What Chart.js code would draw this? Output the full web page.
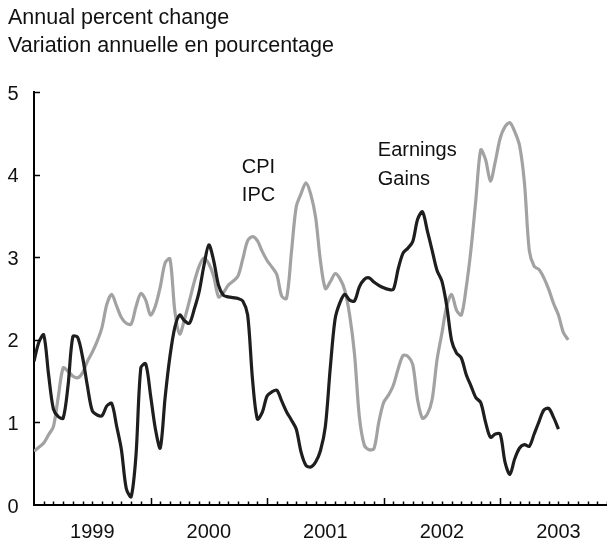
<!DOCTYPE html>
<html>
<head>
<meta charset="utf-8">
<script src="https://cdn.jsdelivr.net/npm/chart.js@4.4.0/dist/chart.umd.min.js"></script>
<style>
    html, body { margin: 0; padding: 0; background: #fff; overflow: hidden; }
    #wrap { position: relative; width: 607px; height: 545px; }
</style>
</head>
<body>
<div id="wrap"><canvas id="chart"></canvas></div>
<script>
// Readings every half month, starting January 1999
const startYear = 1999;
const stepMonths = 0.5;

const yearLabels = ['1999', '2000', '2001', '2002', '2003'];

// Earnings gains (black)
const earningsValues = [
    1.74, 1.97, 2.06, 1.58, 1.16, 1.07, 1.05, 1.44, 2.04, 2.03,
    1.79, 1.44, 1.14, 1.09, 1.08, 1.20, 1.23, 0.96, 0.67, 0.20,
    0.10, 0.60, 1.66, 1.71, 1.33, 0.92, 0.69, 1.30, 1.80, 2.15,
    2.30, 2.23, 2.20, 2.37, 2.58, 2.90, 3.15, 2.96, 2.66, 2.54,
    2.52, 2.51, 2.50, 2.47, 2.30, 1.52, 1.04, 1.12, 1.32, 1.37,
    1.39, 1.26, 1.13, 1.03, 0.92, 0.64, 0.48, 0.46, 0.52, 0.66,
    0.95, 1.65, 2.25, 2.45, 2.55, 2.48, 2.47, 2.64, 2.73, 2.75,
    2.70, 2.66, 2.63, 2.61, 2.61, 2.86, 3.05, 3.11, 3.19, 3.46,
    3.55, 3.32, 3.08, 2.84, 2.71, 2.41, 1.99, 1.84, 1.78, 1.58,
    1.44, 1.30, 1.24, 1.00, 0.82, 0.86, 0.86, 0.52, 0.37, 0.56,
    0.69, 0.73, 0.71, 0.86, 1.01, 1.15, 1.17, 1.06, 0.92
];

// CPI (grey)
const cpiValues = [
    0.65, 0.70, 0.75, 0.85, 0.95, 1.31, 1.66, 1.62, 1.56, 1.54,
    1.60, 1.74, 1.85, 1.98, 2.15, 2.43, 2.55, 2.41, 2.27, 2.20,
    2.19, 2.40, 2.56, 2.48, 2.30, 2.41, 2.64, 2.93, 2.98, 2.35,
    2.07, 2.25, 2.47, 2.70, 2.89, 2.99, 2.92, 2.77, 2.52, 2.57,
    2.66, 2.71, 2.77, 2.98, 3.20, 3.25, 3.20, 3.07, 2.96, 2.88,
    2.79, 2.53, 2.50, 3.05, 3.61, 3.77, 3.90, 3.76, 3.48, 2.95,
    2.62, 2.70, 2.80, 2.74, 2.60, 2.30, 1.83, 1.07, 0.73, 0.67,
    0.68, 1.00, 1.24, 1.33, 1.45, 1.65, 1.81, 1.80, 1.70, 1.27,
    1.05, 1.10, 1.28, 1.76, 2.08, 2.41, 2.55, 2.36, 2.30, 2.63,
    3.10, 3.70, 4.30, 4.18, 3.92, 4.16, 4.44, 4.58, 4.63, 4.52,
    4.35, 3.90, 3.08, 2.89, 2.85, 2.75, 2.61, 2.44, 2.30, 2.09,
    2.00
];

const toPoints = values => values.map((v, i) => ({ x: i * stepMonths, y: v }));

const FONT = '"Liberation Sans", Arial, Helvetica, sans-serif';

// Titles, series labels and inward tick marks
const decorations = {
    id: 'decorations',
    afterDraw(chart) {
        const { ctx, chartArea, scales: { x, y } } = chart;
        ctx.save();
        ctx.fillStyle = '#111';
        ctx.textBaseline = 'alphabetic';
        ctx.textAlign = 'left';
        ctx.font = '21.5px ' + FONT;
        ctx.fillText('Annual percent change', 8, 23.5);
        ctx.fillText('Variation annuelle en pourcentage', 8, 51.5);

        // series labels, anchored in data coordinates
        ctx.font = '20px ' + FONT;
        ctx.fillText('CPI', x.getPixelForValue(21.4), y.getPixelForValue(4.02));
        ctx.fillText('IPC', x.getPixelForValue(21.4), y.getPixelForValue(3.68));
        ctx.fillText('Earnings', x.getPixelForValue(35.4), y.getPixelForValue(4.22));
        ctx.fillText('Gains', x.getPixelForValue(35.4), y.getPixelForValue(3.88));

        // tick marks pointing into the plot
        ctx.strokeStyle = '#000';
        ctx.lineWidth = 1.5;
        ctx.beginPath();
        for (let m = 1; m <= x.max; m++) {
            const px = Math.round(x.getPixelForValue(m)) + 0.5;
            const len = m % 12 === 0 ? 7 : 3.5;
            ctx.moveTo(px, chartArea.bottom);
            ctx.lineTo(px, chartArea.bottom - len);
        }
        for (let v = 1; v <= 5; v++) {
            const py = Math.round(y.getPixelForValue(v)) + 0.5;
            ctx.moveTo(chartArea.left, py);
            ctx.lineTo(chartArea.left + 6, py);
        }
        ctx.stroke();
        ctx.restore();
    }
};

const ctx = document.getElementById('chart').getContext('2d');

new Chart(ctx, {
    type: 'line',
    data: {
        datasets: [{
            label: 'Earnings Gains',
            data: toPoints(earningsValues),
            borderColor: '#1e1e1e',
            borderWidth: 3.2,
            pointRadius: 0,
            tension: 0.3,
            fill: false
        }, {
            label: 'CPI',
            data: toPoints(cpiValues),
            borderColor: '#a2a2a2',
            borderWidth: 3.2,
            pointRadius: 0,
            tension: 0.3,
            fill: false
        }]
    },
    options: {
        responsive: true,
        maintainAspectRatio: false,
        animation: false,
        layout: {
            padding: { top: 92, right: 0, bottom: 0, left: 0 }
        },
        plugins: {
            legend: { display: false },
            tooltip: { enabled: false }
        },
        scales: {
            x: {
                type: 'linear',
                min: 0,
                max: 59,
                grid: { display: true, drawOnChartArea: false, drawTicks: false },
                border: { display: true, color: '#000', width: 2 },
                afterBuildTicks: (scale) => {
                    scale.ticks = yearLabels.map((_, i) => ({ value: i * 12 + 6 }));
                },
                afterFit: (scale) => { scale.height = 40; },
                ticks: {
                    padding: 15,
                    color: '#111',
                    font: { family: FONT, size: 20 },
                    maxRotation: 0,
                    autoSkip: false,
                    callback: (value) => yearLabels[Math.round((value - 6) / 12)] ?? ''
                }
            },
            y: {
                min: 0,
                max: 5,
                grid: { display: true, drawOnChartArea: false, drawTicks: false },
                border: { display: true, color: '#000', width: 2 },
                afterFit: (scale) => { scale.width = 34; },
                ticks: {
                    stepSize: 1,
                    padding: 15.5,
                    labelOffset: 2,
                    color: '#111',
                    font: { family: FONT, size: 20 }
                }
            }
        }
    },
    plugins: [decorations]
});
</script>
</body>
</html>
